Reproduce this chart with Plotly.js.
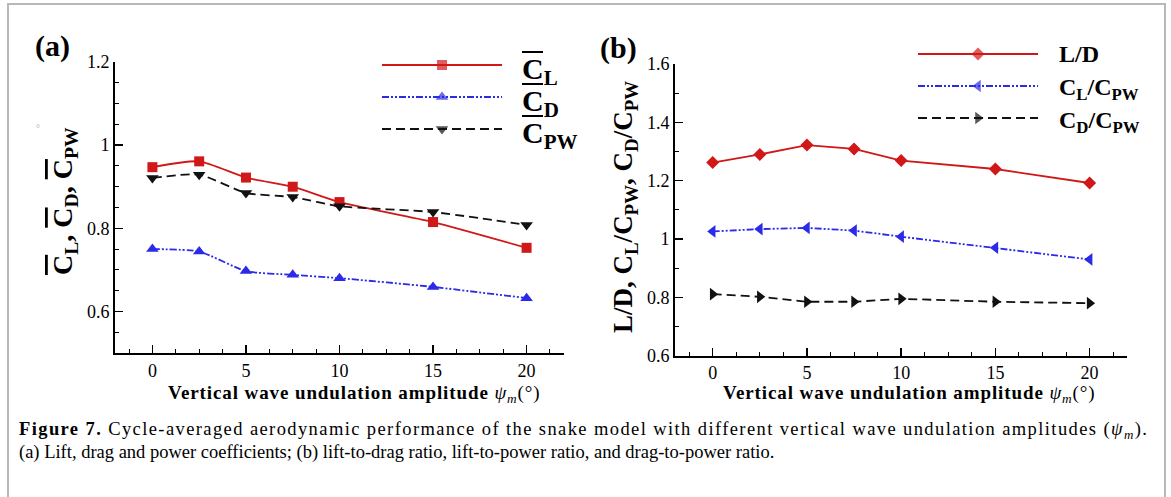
<!DOCTYPE html>
<html>
<head>
<meta charset="utf-8">
<script src="https://cdn.plot.ly/plotly-3.0.1.min.js"></script>
<style>html,body{margin:0;padding:0;background:#fff}#chart{width:1171px;height:497px}</style>
</head>
<body>
<div id="chart"></div>
<script>
// ---- data ----
const amplitude = [0, 2.5, 5, 7.5, 10, 15, 20];
const CL  = [0.947, 0.961, 0.922, 0.900, 0.863, 0.815, 0.753];
const CD  = [0.750, 0.744, 0.697, 0.688, 0.680, 0.659, 0.632];
const CPW = [0.921, 0.929, 0.885, 0.875, 0.853, 0.839, 0.808];
const LD    = [1.262, 1.290, 1.322, 1.309, 1.269, 1.240, 1.192];
const CLCPW = [1.026, 1.034, 1.038, 1.029, 1.008, 0.970, 0.930];
const CDCPW = [0.811, 0.802, 0.785, 0.785, 0.795, 0.785, 0.780];
const xTicksA = [0, 5, 10, 15, 20];

const RED = '#d01818', BLUE = '#2a2ae8', BLACK = '#111111';
const SERIF = '"Liberation Serif", "Times New Roman", serif';
const OL = '<span style="text-decoration:overline">C</span>';

const blueDash = '7px,2px,2px,2px,2px,2px';
const blackDash = '9px,5px';

function tr(x, y, xa, ya, color, dash, sym, size, shape) {
  return {x: x, y: y, xaxis: xa, yaxis: ya, type: 'scatter', mode: 'lines+markers',
    line: {color: color, width: 1.8, dash: dash, shape: shape, smoothing: 0.6},
    marker: {symbol: sym, size: size, color: color, line: {width: 0}},
    showlegend: false, hoverinfo: 'skip'};
}

const traces = [
  tr(amplitude, CL, 'x', 'y', RED, 'solid', 'square', 10, 'spline'),
  tr(amplitude, CD, 'x', 'y', BLUE, blueDash, 'triangle-up', 11, 'spline'),
  tr(amplitude, CPW, 'x', 'y', BLACK, blackDash, 'triangle-down', 11, 'spline'),
  tr(amplitude, LD, 'x2', 'y2', RED, 'solid', 'diamond', 10, 'linear'),
  tr(amplitude, CLCPW, 'x2', 'y2', BLUE, blueDash, 'triangle-left', 11, 'linear'),
  tr(amplitude, CDCPW, 'x2', 'y2', BLACK, blackDash, 'triangle-right', 11, 'linear')
];

// legend samples (pixel overlay axes)
const legendRows = [
  {x0: 382, x1: 502, y: 65, c: RED, d: 'solid', s: 'square', z: 10},
  {x0: 382, x1: 502, y: 97, c: BLUE, d: blueDash, s: 'triangle-up', z: 11},
  {x0: 382, x1: 502, y: 129, c: BLACK, d: blackDash, s: 'triangle-down', z: 11},
  {x0: 918, x1: 1038, y: 54, c: RED, d: 'solid', s: 'diamond', z: 10},
  {x0: 918, x1: 1038, y: 86, c: BLUE, d: blueDash, s: 'triangle-left', z: 11},
  {x0: 918, x1: 1038, y: 118, c: BLACK, d: blackDash, s: 'triangle-right', z: 11}
];
legendRows.forEach(r => {
  traces.push({x: [r.x0, (r.x0 + r.x1) / 2, r.x1], y: [r.y, r.y, r.y], xaxis: 'x3', yaxis: 'y3',
    type: 'scatter', mode: 'lines+markers', line: {color: r.c, width: 1.8, dash: r.d},
    marker: {symbol: r.s, size: [0, r.z, 0], color: r.c, line: {width: 0}},
    showlegend: false, hoverinfo: 'skip'});
});

function xax(domain, anchor) {
  return {domain: domain, anchor: anchor, range: [-2, 22], tickmode: 'array', tickvals: xTicksA,
    ticks: 'inside', ticklen: 8, tickwidth: 1.5, tickcolor: '#000', showline: true, linewidth: 2,
    linecolor: '#000', showgrid: false, zeroline: false, fixedrange: true,
    tickfont: {family: SERIF, size: 18, color: '#000'},
    minor: {dtick: 1.25, tick0: 0, ticks: 'inside', ticklen: 4, tickwidth: 1, tickcolor: '#000', showgrid: false}};
}
function yax(domain, anchor, range, tick0, minorD) {
  return {domain: domain, anchor: anchor, range: range, tick0: tick0, dtick: 0.2,
    ticks: 'inside', ticklen: 8, tickwidth: 1.5, tickcolor: '#000', showline: true, linewidth: 2,
    linecolor: '#000', showgrid: false, zeroline: false, fixedrange: true,
    tickfont: {family: SERIF, size: 18, color: '#000'},
    minor: {dtick: minorD, tick0: tick0, ticks: 'inside', ticklen: 4, tickwidth: 1, tickcolor: '#000', showgrid: false}};
}

function ann(x, y, text, size, opts) {
  return Object.assign({xref: 'paper', yref: 'paper', x: x / 1171, y: 1 - y / 497, text: text,
    xanchor: 'center', yanchor: 'middle',
    showarrow: false, font: {family: SERIF, size: size, color: '#000'}}, opts || {});
}

const xTitle = '<span style="letter-spacing:0.9px"><b>Vertical wave undulation amplitude </b><i>ψ<sub>m</sub></i>(°)</span>';

const annotations = [
  ann(52, 46, '<b>(a)</b>', 30),
  ann(618, 48, '<b>(b)</b>', 30),
  ann(38, 128, '°', 10, {font: {family: SERIF, size: 10, color: '#b0b0b0'}}),
  ann(354, 394, xTitle, 19),
  ann(909, 394, xTitle, 19),
  ann(64, 201, '<b>' + OL + '<sub>L</sub>, ' + OL + '<sub>D</sub>, ' + OL + '<sub>PW</sub></b>', 28, {textangle: -90}),
  ann(625, 207, '<b>L/D, C<sub>L</sub>/C<sub>PW</sub>, C<sub>D</sub>/C<sub>PW</sub></b>', 27, {textangle: -90}),
  ann(520, 71, '<b>C<sub>L</sub></b>', 30, {xanchor: 'left'}),
  ann(520, 103, '<b>C<sub>D</sub></b>', 30, {xanchor: 'left'}),
  ann(520, 135, '<b>C<sub>PW</sub></b>', 30, {xanchor: 'left'}),
  ann(1057, 54, '<b>L/D</b>', 24, {xanchor: 'left'}),
  ann(1057, 89, '<b>C<sub>L</sub>/C<sub>PW</sub></b>', 24, {xanchor: 'left'}),
  ann(1057, 122, '<b>C<sub>D</sub>/C<sub>PW</sub></b>', 24, {xanchor: 'left'}),
  ann(17, 430, '<span style="letter-spacing:1.4px"><b>Figure 7.</b> Cycle-averaged aerodynamic performance of the snake model with different vertical wave undulation amplitudes (<i>ψ</i><sub><i>m</i></sub>).</span>', 18.5, {xanchor: 'left'}),
  ann(17, 452, '(a) Lift, drag and power coefficients; (b) lift-to-drag ratio, lift-to-power ratio, and drag-to-power ratio.', 18.5, {xanchor: 'left'})
];

// overlines over the legend "C" glyphs (pixel positions)
const olRows = [52, 84, 116];
const shapes = [{type: 'rect', xref: 'paper', yref: 'paper', x0: 8 / 1171, x1: 1165 / 1171, y0: -0.1, y1: 1 - 4 / 497,
  line: {color: '#b8b8b8', width: 2}, fillcolor: 'rgba(0,0,0,0)', layer: 'below'}];
olRows.forEach(y => shapes.push({type: 'line', xref: 'x3', yref: 'y3', x0: 522, x1: 543, y0: y, y1: y,
  line: {color: '#000', width: 2}}));

const layout = {
  width: 1171, height: 497, margin: {l: 0, r: 0, t: 0, b: 0},
  paper_bgcolor: '#fff', plot_bgcolor: 'rgba(0,0,0,0)', showlegend: false,
  xaxis: xax([115 / 1171, 564 / 1171], 'y'),
  yaxis: yax([1 - 353 / 497, 1 - 62 / 497], 'x', [0.5, 1.2], 0.6, 0.05),
  xaxis2: xax([675 / 1171, 1127.3 / 1171], 'y2'),
  yaxis2: yax([1 - 355.7 / 497, 1 - 64 / 497], 'x2', [0.6, 1.6], 0.6, 0.1),
  xaxis3: {domain: [0, 1], range: [0, 1171], anchor: 'y3', visible: false, fixedrange: true},
  yaxis3: {domain: [0, 1], range: [497, 0], anchor: 'x3', visible: false, fixedrange: true},
  annotations: annotations,
  shapes: shapes
};

Plotly.newPlot('chart', traces, layout, {displayModeBar: false, staticPlot: true});
</script>
</body>
</html>
